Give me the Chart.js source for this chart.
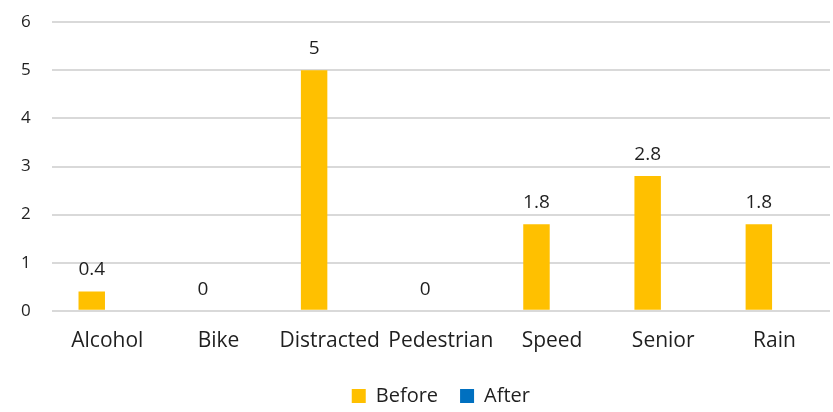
<!DOCTYPE html>
<html>
<head>
<meta charset="utf-8">
<script src="https://cdn.jsdelivr.net/npm/chart.js@4"></script>
<style>
  html, body { margin: 0; padding: 0; background: #fff; overflow: hidden; }
  #wrap { width: 833px; height: 425px; margin-top: -9px; }
</style>
</head>
<body>
<div id="wrap"><canvas id="chart"></canvas></div>
<script>
// datos de la grafica
var categories = ['Alcohol', 'Bike', 'Distracted', 'Pedestrian', 'Speed', 'Senior', 'Rain'];
var beforeValues = [0.4, 0, 5, 0, 1.8, 2.8, 1.8];
var afterValues = [null, null, null, null, null, null, null];
var yTicks = [0, 1, 2, 3, 4, 5, 6];

var fontFamily = '"Open Sans", sans-serif';
var textColor = '#1f1f1f';

// etiquetas encima de las barras
var barLabels = {
    id: 'barLabels',
    afterDatasetsDraw: function (chart) {
        var ctx = chart.ctx;
        ctx.save();
        ctx.font = '19px ' + fontFamily;
        ctx.fillStyle = textColor;
        ctx.textAlign = 'center';
        ctx.textBaseline = 'bottom';
        chart.data.datasets.forEach(function (ds, i) {
            var meta = chart.getDatasetMeta(i);
            meta.data.forEach(function (bar, j) {
                var v = ds.data[j];
                if (v === null || v === undefined) return;
                ctx.fillText(String(v), bar.x, bar.y - 12);
            });
        });
        ctx.restore();
    }
};

var myChart = new Chart(document.getElementById('chart'), {
    type: 'bar',
    data: {
        labels: categories,
        datasets: [
            {
                label: 'Before',
                data: beforeValues,
                backgroundColor: '#FFC000',
                categoryPercentage: 0.56,
                barPercentage: 0.85
            },
            {
                label: 'After',
                data: afterValues,
                backgroundColor: '#0070C0',
                categoryPercentage: 0.56,
                barPercentage: 0.85
            }
        ]
    },
    options: {
        responsive: true,
        maintainAspectRatio: false,
        animation: false,
        layout: { padding: { top: 4.5, right: 3, left: 0, bottom: 0 } },
        scales: {
            x: {
                grid: { display: false },
                border: { display: false },
                ticks: {
                    color: textColor,
                    font: { family: fontFamily, size: 21 },
                    padding: 10,
                    maxRotation: 0,
                    autoSkip: false
                }
            },
            y: {
                min: 0,
                max: 6,
                afterBuildTicks: function (axis) {
                    axis.ticks = yTicks.map(function (v) { return { value: v }; });
                },
                grid: { color: '#d9d9d9', lineWidth: 2, drawTicks: false },
                border: { display: false },
                ticks: {
                    color: textColor,
                    font: { family: fontFamily, size: 17 },
                    padding: 21
                }
            }
        },
        plugins: {
            legend: {
                position: 'bottom',
                fullSize: false,
                labels: {
                    boxWidth: 14,
                    boxHeight: 14,
                    color: textColor,
                    font: { family: fontFamily, size: 20 },
                    padding: 22
                }
            },
            tooltip: { enabled: false }
        }
    },
    plugins: [barLabels]
});
</script>
</body>
</html>
